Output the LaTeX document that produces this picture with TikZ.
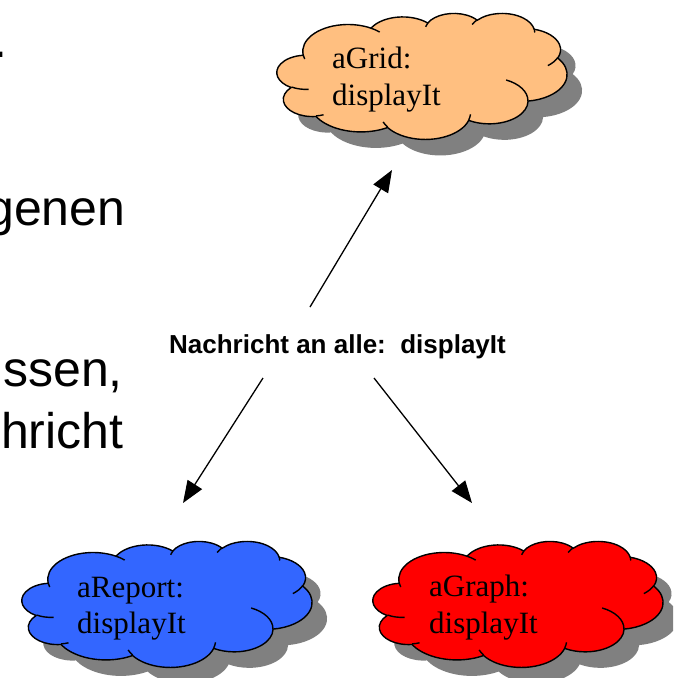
\documentclass[tikz,border=0pt]{standalone}
\usepackage{fontspec}
\setmainfont{Liberation Serif}
\newfontfamily\arialfont{Liberation Sans}
\usetikzlibrary{arrows.meta}

\definecolor{gridorange}{HTML}{FFBF80}
\definecolor{reportblue}{HTML}{3366FF}
\definecolor{graphred}{HTML}{FF0000}
\definecolor{cloudshadow}{HTML}{808080}

\newcommand\cldW{290}
\newcommand\cldH{126}
% outer arcs: a/b (radii, /100 of 43200 units), start, sweep (deg)
\newcommand\cldarcs{67.53/91.90/-190.48748/123.78053,
 53.33/72.67/-144.10238/89.94523,
 43.65/59.45/-145.80792/99.72302,
 48.57/65.95/-130.98607/117.24173,
 53.33/72.73/-78.70888/109.02692,
 67.75/92.20/-46.26725/130.269,
 57.85/78.67/0.62502/114.03333,
 67.52/92.15/22.4516/115.17255,
 77.20/105.43/66.24263/75.71102,
 43.60/59.18/-274.94208/146.73557,
 43.45/59.45/-246.8285/152.51885}
\newcommand\cldcurls{46.93/261.77/43.45/59.45/86.742/26.4295,
 69.28/348.99/43.60/59.18/73.6105/11.4475,
 164.78/390.90/67.52/92.15/137.6242/14.0811,
 288.27/347.51/67.52/92.15/6.4533/15.9984,
 341.29/229.54/57.85/78.67/-70.2924/70.9174,
 417.98/153.54/53.33/72.73/30.3180/27.7515,
 383.24/54.26/48.57/65.95/-13.7443/14.8589,
 290.78/39.52/48.57/65.95/-149.1815/18.1954,
 221.41/47.20/43.65/59.45/-163.4943/17.6864,
 140.00/51.92/67.53/91.90/-66.7070/12.3194,
 41.27/157.89/67.53/91.90/157.6544/11.8582}

% angles are visual angles in the square 43200 x 43200 design space
\newcommand\cldcalc[4]{%
  \pgfmathsetmacro\cldrx{#1/432*\cldW}%
  \pgfmathsetmacro\cldry{#2/432*\cldH}%
  \pgfmathsetmacro\cldtA{atan2(#1*sin(#3),#2*cos(#3))}%
  \pgfmathsetmacro\cldtB{atan2(#1*sin(#3+#4),#2*cos(#3+#4))}%
  \pgfmathsetmacro\cldtD{mod(\cldtB-\cldtA+720,360)}%
}

\newcommand\drawcloud[4]{%
  \begin{scope}[shift={(#1+15,#2+16)}]
    \fill[cloudshadow] (39.00/432*\cldW, 143.70/432*\cldH)
      \foreach \a/\b/\s/\d in \cldarcs {
        \pgfextra{\cldcalc{\a}{\b}{\s}{\d}}
        arc[start angle=\cldtA, delta angle=\cldtD, x radius=\cldrx, y radius=\cldry]
      } -- cycle;
  \end{scope}
  \begin{scope}[shift={(#1,#2)}]
    \filldraw[cloudline, fill=#3] (39.00/432*\cldW, 143.70/432*\cldH)
      \foreach \a/\b/\s/\d in \cldarcs {
        \pgfextra{\cldcalc{\a}{\b}{\s}{\d}}
        arc[start angle=\cldtA, delta angle=\cldtD, x radius=\cldrx, y radius=\cldry]
      } -- cycle;
    \foreach \mx/\my/\a/\b/\s/\d in \cldcurls {
      \cldcalc{\a}{\b}{\s}{\d}
      \draw[cloudline] (\mx/432*\cldW, \my/432*\cldH)
        arc[start angle=\cldtA, delta angle=\cldtD, x radius=\cldrx, y radius=\cldry];
    }
    \coordinate (#4) at (\cldW/2, \cldH/2);
  \end{scope}
}

\begin{document}
\begin{tikzpicture}[x=1pt, y=-1pt,
  cloudline/.style={draw=black, line width=1.4pt, line join=round},
  cloudtext/.style={anchor=base west, inner sep=0pt, font=\fontsize{31}{36}\selectfont},
  slidetext/.style={anchor=base east, inner sep=0pt, font=\arialfont\fontsize{50}{60}\selectfont},
  msgarrow/.style={draw=black, line width=1.3pt, -{Triangle[length=22pt, width=17pt]}},
  msglabel/.style={anchor=base, inner sep=0pt, font=\arialfont\bfseries\fontsize{26}{31}\selectfont}]
  \useasboundingbox (0,0) rectangle (673,678);
  \clip (0,0) rectangle (673,678);
  \fill[white] (0,0) rectangle (673,678);

  % cropped slide text at the left
  \node[anchor=base west, inner sep=0pt, font=\arialfont\fontsize{50}{60}\selectfont] (dot) at (-7,57) {.};
  \node[slidetext] (line2) at (125.5,225) {genen};
  \node[slidetext] (line3) at (123,386) {ssen,};
  \node[slidetext] (line4) at (123.5,448) {hricht};

  % clouds
  \drawcloud{277}{13}{gridorange}{grid}
  \drawcloud{22}{541}{reportblue}{report}
  \drawcloud{373}{541}{graphred}{graph}

  \node[cloudtext] (gridA) at (332,68) {aGrid:};
  \node[cloudtext] (gridB) at (332,105) {displayIt};
  \node[cloudtext] (reportA) at (77,597) {aReport:};
  \node[cloudtext] (reportB) at (77,633) {displayIt};
  \node[cloudtext] (graphA) at (429,596) {aGraph:};
  \node[cloudtext] (graphB) at (429,633) {displayIt};

  % message and arrows
  \node[msglabel] (msg) at (337.5,353) {Nachricht an alle:\ \ displayIt};
  \coordinate (upS) at (310,307);
  \coordinate (upE) at (392,170);
  \coordinate (leftS) at (263,378);
  \coordinate (leftE) at (183,503);
  \coordinate (rightS) at (374,378);
  \coordinate (rightE) at (472,503);
  \draw[msgarrow] (upS) -- (upE);
  \draw[msgarrow] (leftS) -- (leftE);
  \draw[msgarrow] (rightS) -- (rightE);
\end{tikzpicture}
\end{document}
